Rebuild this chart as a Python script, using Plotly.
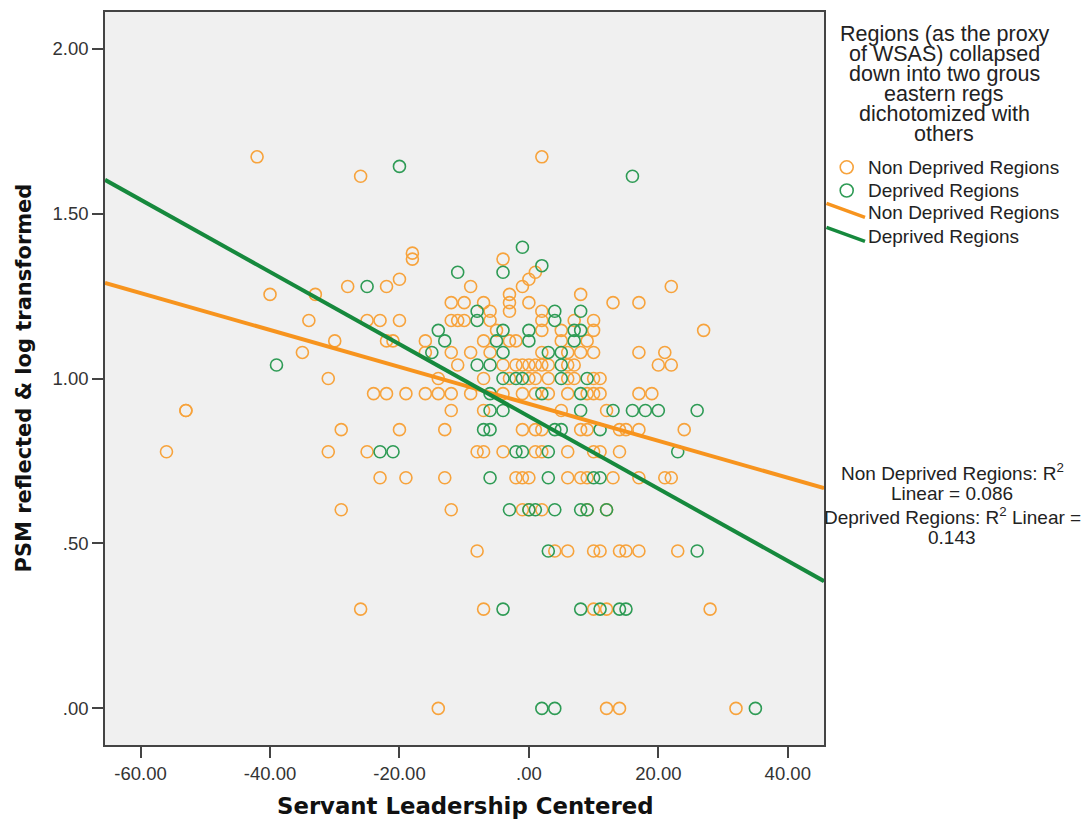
import plotly.graph_objects as go

# PSM (reflected, log10) against centred servant leadership, by region group
nondeprived_x = [
    -42, 2,
    -26,
    -18,
    -18, -4,
    1,
    -20, 0,
    -28, -22, -9, -1, 22,
    -40, -33, -3, 8,
    -12, -10, -7, -3, 0, 13, 17,
    -6, -3, 2,
    -34, -25, -23, -20, -12, -11, -10, -6, 2, 7, 10,
    -5, 2, 5, 10, 27,
    -30, -22, -21, -16, -7, -3, -2, 5, 9,
    -35, -16, -12, -9, -6, 2, 6, 8, 10, 17, 21,
    -11, -4, -2, -1, 0, 1, 2, 3, 6, 7, 20, 22,
    -31, -14, -7, -3, 0, 1, 3, 6, 7, 10, 11,
    -24, -22, -19, -16, -14, -12, -9, -4, -1, 1, 3, 6, 9, 10, 11, 17, 19,
    -53, -53, -12, -7, 5, 12,
    -29, -20, -13, -1, 1, 2, 8, 9, 14, 15, 17, 24,
    -56, -31, -25, -8, -7, -4, 1, 2, 6, 10, 11, 14,
    -23, -19, -13, -2, -1, 0, 6, 8, 9, 13, 17, 21, 22,
    -29, -12, -1, 0, 2, 9, 12,
    -8, 4, 6, 10, 11, 14, 15, 17, 23,
    -26, -7, 10, 12, 28,
    -14, 12, 14, 32,
]
nondeprived_y = [
    1.672, 1.672,
    1.613,
    1.380,
    1.362, 1.362,
    1.322,
    1.301, 1.301,
    1.279, 1.279, 1.279, 1.279, 1.279,
    1.255, 1.255, 1.255, 1.255,
    1.230, 1.230, 1.230, 1.230, 1.230, 1.230, 1.230,
    1.204, 1.204, 1.204,
    1.176, 1.176, 1.176, 1.176, 1.176, 1.176, 1.176, 1.176, 1.176, 1.176, 1.176,
    1.146, 1.146, 1.146, 1.146, 1.146,
    1.114, 1.114, 1.114, 1.114, 1.114, 1.114, 1.114, 1.114, 1.114,
    1.079, 1.079, 1.079, 1.079, 1.079, 1.079, 1.079, 1.079, 1.079, 1.079, 1.079,
    1.041, 1.041, 1.041, 1.041, 1.041, 1.041, 1.041, 1.041, 1.041, 1.041, 1.041, 1.041,
    1.000, 1.000, 1.000, 1.000, 1.000, 1.000, 1.000, 1.000, 1.000, 1.000, 1.000,
    0.954, 0.954, 0.954, 0.954, 0.954, 0.954, 0.954, 0.954, 0.954, 0.954, 0.954, 0.954,
    0.954, 0.954, 0.954, 0.954, 0.954,
    0.903, 0.903, 0.903, 0.903, 0.903, 0.903,
    0.845, 0.845, 0.845, 0.845, 0.845, 0.845, 0.845, 0.845, 0.845, 0.845, 0.845, 0.845,
    0.778, 0.778, 0.778, 0.778, 0.778, 0.778, 0.778, 0.778, 0.778, 0.778, 0.778, 0.778,
    0.699, 0.699, 0.699, 0.699, 0.699, 0.699, 0.699, 0.699, 0.699, 0.699, 0.699, 0.699, 0.699,
    0.602, 0.602, 0.602, 0.602, 0.602, 0.602, 0.602,
    0.477, 0.477, 0.477, 0.477, 0.477, 0.477, 0.477, 0.477, 0.477,
    0.301, 0.301, 0.301, 0.301, 0.301,
    0.000, 0.000, 0.000, 0.000,
]

deprived_x = [
    -20,
    16,
    -1,
    2,
    -11, -4,
    -25,
    -8, 4, 8,
    -8, 4,
    -14, -4, 0, 7, 8,
    -13, -5, 0, 7,
    -15, -4, 3, 5,
    -39, -8, -6, 5,
    -4, -2, -1, 5, 9,
    -6, 2, 8,
    -6, -4, 8, 13, 16, 18, 20, 26,
    -7, -6, 4, 5, 11,
    -23, -21, -2, -1, 3, 23,
    -6, 3, 10, 11,
    -3, 0, 1, 4, 8, 9, 12,
    3, 26,
    -4, 8, 11, 14, 15,
    2, 4, 35,
]
deprived_y = [
    1.643,
    1.613,
    1.398,
    1.342,
    1.322, 1.322,
    1.279,
    1.204, 1.204, 1.204,
    1.176, 1.176,
    1.146, 1.146, 1.146, 1.146, 1.146,
    1.114, 1.114, 1.114, 1.114,
    1.079, 1.079, 1.079, 1.079,
    1.041, 1.041, 1.041, 1.041,
    1.000, 1.000, 1.000, 1.000, 1.000,
    0.954, 0.954, 0.954,
    0.903, 0.903, 0.903, 0.903, 0.903, 0.903, 0.903, 0.903,
    0.845, 0.845, 0.845, 0.845, 0.845,
    0.778, 0.778, 0.778, 0.778, 0.778, 0.778,
    0.699, 0.699, 0.699, 0.699,
    0.602, 0.602, 0.602, 0.602, 0.602, 0.602, 0.602,
    0.477, 0.477,
    0.301, 0.301, 0.301, 0.301, 0.301,
    0.000, 0.000, 0.000,
]

# Linear fit lines (intercept, slope) for each group
group_names = ["Non Deprived Regions", "Deprived Regions"]
fit_intercepts = [0.923, 0.885]
fit_slopes = [-0.0056, -0.01095]
r_squared = ["0.086", "0.143"]

x_range = [-65.5, 45.6]
y_range = [-0.111, 2.111]
x_tickvals = [-60, -40, -20, 0, 20, 40]
x_ticktext = ["-60.00", "-40.00", "-20.00", ".00", "20.00", "40.00"]
y_tickvals = [0, 0.5, 1.0, 1.5, 2.0]
y_ticktext = [".00", ".50", "1.00", "1.50", "2.00"]

marker_colors = ["#F7A33C", "#2E9B55"]
line_colors = ["#F7941E", "#16893D"]

W, H = 1089, 820
L, R, T, B = 105, 824, 10, 745


def px(x):
    return (x - L) / (R - L)


def py(y):
    return (B - y) / (B - T)


fig = go.Figure()

for xs, ys, col in [(nondeprived_x, nondeprived_y, marker_colors[0]),
                    (deprived_x, deprived_y, marker_colors[1])]:
    fig.add_trace(go.Scatter(
        x=xs, y=ys, mode="markers", showlegend=False,
        marker=dict(symbol="circle-open", size=12, color=col,
                    line=dict(width=1.6, color=col)),
        hoverinfo="skip",
    ))

for b0, b1, col in zip(fit_intercepts, fit_slopes, line_colors):
    fig.add_trace(go.Scatter(
        x=x_range, y=[b0 + b1 * x for x in x_range], mode="lines",
        showlegend=False, line=dict(color=col, width=4), hoverinfo="skip",
    ))

tick_font = dict(family="Liberation Sans, Arial", size=18.5, color="#333333")
frame = "#444444"

fig.update_layout(
    width=W, height=H,
    margin=dict(l=L, r=W - R, t=T, b=H - B, pad=0),
    paper_bgcolor="white", plot_bgcolor="#F0F0F0",
    xaxis=dict(range=x_range, tickvals=x_tickvals, ticktext=x_ticktext,
               ticks="outside", ticklen=11, tickwidth=1.5, tickcolor=frame,
               showline=True, linecolor=frame, linewidth=1.5, mirror=True,
               showgrid=False, zeroline=False, tickfont=tick_font),
    yaxis=dict(range=y_range, tickvals=y_tickvals, ticktext=y_ticktext,
               ticks="outside", ticklen=11, tickwidth=1.5, tickcolor=frame,
               showline=True, linecolor=frame, linewidth=1.5, mirror=True,
               showgrid=False, zeroline=False, tickfont=tick_font),
)

text_font = dict(family="Liberation Sans, Arial", size=19, color="#222222")
legend_title_font = dict(family="Liberation Sans, Arial", size=21.5, color="#222222")
title_font = dict(family="DejaVu Sans", size=22.8, color="#111111")

annotations = [
    dict(text="<b>Servant Leadership Centered</b>", x=px(465), y=py(806),
         font=title_font),
    dict(text="<b>PSM reflected &amp; log transformed</b>", x=px(23), y=py(377.5),
         textangle=-90, font=dict(title_font, size=21)),
]

legend_title = ["Regions (as the proxy", "of WSAS) collapsed", "down into two grous",
                "eastern regs", "dichotomized with", "others"]
for i, line in enumerate(legend_title):
    annotations.append(dict(text=line, x=px(944), y=py(32 + 20 * i),
                            font=legend_title_font))

legend_rows = [165.7, 189, 211, 235]
for i, yy in enumerate(legend_rows):
    annotations.append(dict(text=group_names[i % 2], x=px(866), y=py(yy),
                            xanchor="left", font=text_font))

r2_lines = [f"{group_names[0]}: R<sup>2</sup>", f"Linear = {r_squared[0]}",
            f"{group_names[1]}: R<sup>2</sup> Linear =", r_squared[1]]
for i, line in enumerate(r2_lines):
    annotations.append(dict(text=line, x=px(952), y=py(471 + 22 * i), font=text_font))

for a in annotations:
    a.setdefault("xref", "paper")
    a.setdefault("yref", "paper")
    a.setdefault("showarrow", False)
    a.setdefault("xanchor", "center")
    a.setdefault("yanchor", "middle")
fig.update_layout(annotations=annotations)

shapes = []
for i, yy in enumerate(legend_rows[:2]):
    shapes.append(dict(type="circle", xref="paper", yref="paper",
                       x0=px(846.7 - 6.5), x1=px(846.7 + 6.5),
                       y0=py(yy + 6.5), y1=py(yy - 6.5),
                       line=dict(color=marker_colors[i], width=1.6)))
for i, yy in enumerate(legend_rows[2:]):
    shapes.append(dict(type="line", xref="paper", yref="paper",
                       x0=px(826.5), y0=py(yy - 9), x1=px(865), y1=py(yy + 5),
                       line=dict(color=line_colors[i], width=3.5)))
fig.update_layout(shapes=shapes)

fig.write_html("out.html")
